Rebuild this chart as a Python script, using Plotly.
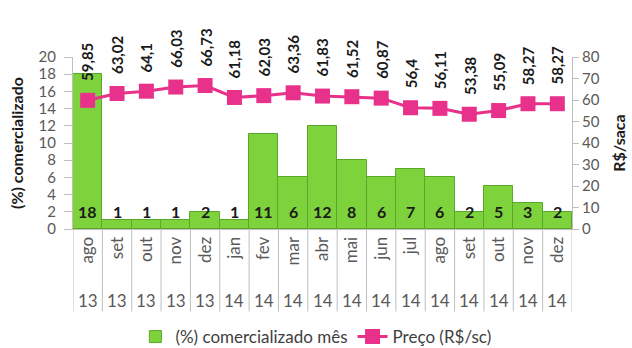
import plotly.graph_objects as go

months = ["ago","set","out","nov","dez","jan","fev","mar","abr","mai","jun","jul","ago","set","out","nov","dez"]
years = ["13","13","13","13","13","14","14","14","14","14","14","14","14","14","14","14","14"]
pct = [18,1,1,1,2,1,11,6,12,8,6,7,6,2,5,3,2]
price = [59.85,63.02,64.1,66.03,66.73,61.18,62.03,63.36,61.83,61.52,60.87,56.4,56.11,53.38,55.09,58.27,58.27]

FONT = "Lato"
idx = list(range(len(months)))

fig = go.Figure()
fig.add_trace(go.Bar(x=idx, y=pct, name="(%) comercializado mês",
                     marker=dict(color="#7ED23C", line=dict(color="#58A82A", width=1)),
                     yaxis="y"))
fig.add_trace(go.Scatter(x=idx, y=price, name="Preço (R$/sc)", mode="lines+markers",
                         line=dict(color="#E8318A", width=3),
                         marker=dict(symbol="square", size=15, color="#E8318A"),
                         yaxis="y2"))

ann = []
shapes = []
for i, (p, v, yr) in enumerate(zip(pct, price, years)):
    ann.append(dict(x=i, y=0, xref="x", yref="y", text=f"<b>{p}</b>", showarrow=False,
                    yanchor="bottom", yshift=6, font=dict(size=16, color="#1a1a1a", family=FONT)))
    ann.append(dict(x=i, y=v, xref="x", yref="y2", text="<b>" + str(v).replace(".", ",") + "</b>",
                    showarrow=False, textangle=-90, yanchor="bottom", yshift=17,
                    font=dict(size=15, color="#1a1a1a", family=FONT)))
    ann.append(dict(x=i, y=-0.413, xref="x", yref="paper", text=yr, showarrow=False,
                    yanchor="middle", font=dict(size=17, color="#595959", family=FONT)))
for i in range(len(months) + 1):
    shapes.append(dict(type="line", xref="x", yref="paper", x0=i - 0.5, x1=i - 0.5,
                       y0=0, y1=-0.48, line=dict(color="#BFBFBF", width=1)))

fig.update_layout(
    width=632, height=348,
    margin=dict(l=73, r=60, t=57, b=119, autoexpand=False),
    paper_bgcolor="white", plot_bgcolor="white",
    font=dict(family=FONT, size=15, color="#595959"),
    bargap=0,
    showlegend=True,
    legend=dict(orientation="h", x=0.125, xanchor="left", y=-0.628, yanchor="middle",
                font=dict(size=17, color="#404040", family=FONT)),
    xaxis=dict(range=[-0.5, len(months) - 0.5], tickvals=idx, ticktext=months, tickangle=-90,
               showline=True, linecolor="#BFBFBF", ticks="", showgrid=False, zeroline=False,
               automargin=False, tickfont=dict(size=17, color="#595959", family=FONT)),
    yaxis=dict(range=[0, 20], dtick=2, showgrid=False, zeroline=False, showline=True,
               linecolor="#BFBFBF", ticks="outside", ticklen=8, tickcolor="#BFBFBF",
               automargin=False, ticklabelstandoff=5, tickfont=dict(size=15, color="#595959"),
               title=dict(text="<b>(%) comercializado</b>", font=dict(size=16, color="#1a1a1a"), standoff=10)),
    yaxis2=dict(range=[0, 80], dtick=10, overlaying="y", side="right", showgrid=False,
                zeroline=False, showline=True, linecolor="#BFBFBF", ticks="outside",
                automargin=False, ticklen=6, tickcolor="#BFBFBF", tickfont=dict(size=15, color="#595959"),
                title=dict(text="<b>R$/saca</b>", font=dict(size=16, color="#1a1a1a"), standoff=15)),
    annotations=ann,
    shapes=shapes,
)

fig.write_html("out.html")
